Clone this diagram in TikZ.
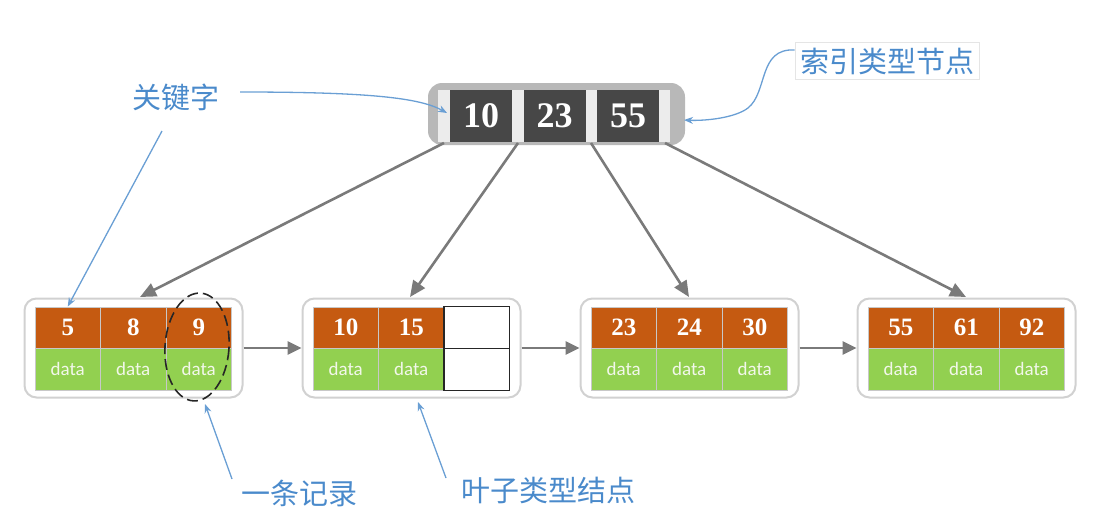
\documentclass[tikz,border=0pt]{standalone}
\usepackage{fontspec}
\setmainfont{Liberation Serif}
\newfontfamily\cjk{Noto Sans CJK SC}
\newfontfamily\carl{Carlito}
\usetikzlibrary{arrows.meta,calc}
\definecolor{orangeC}{HTML}{C55A11}
\definecolor{greenC}{HTML}{92D050}
\definecolor{darkC}{HTML}{474747}
\definecolor{frameC}{HTML}{B8B8B8}
\definecolor{stripC}{HTML}{ECECEC}
\definecolor{arrowC}{HTML}{7A7A7A}
\definecolor{blueT}{HTML}{4A8ACB}
\definecolor{blueL}{HTML}{6A9FD4}
\definecolor{cellL}{HTML}{C8C8C8}
\definecolor{dataT}{HTML}{F2F7EA}
\newcommand\leafnode[5]{%
  \node[leafbox] (#1) at (#2+98.5,348) {};
  \node[keycell] (#1k1) at (#2+32.75,327.5) {#3};
  \node[keycell] (#1k2) at (#2+98.25,327.5) {#4};
  \node[keycell] (#1k3) at (#2+163.75,327.5) {#5};
  \node[datacell] (#1d1) at (#2+32.75,369) {data};
  \node[datacell] (#1d2) at (#2+98.25,369) {data};
  \node[datacell] (#1d3) at (#2+163.75,369) {data};
}
\begin{document}
\begin{tikzpicture}[x=1pt,y=-1pt,
  leafbox/.style={draw=black!18, line width=2pt, rounded corners=12pt, fill=white, minimum width=218pt, minimum height=99pt, inner sep=0pt},
  keycell/.style={fill=orangeC, draw=cellL, line width=0.8pt, minimum width=65.5pt, minimum height=41pt, inner sep=0pt, text=white, font=\fontsize{25}{25}\selectfont\bfseries},
  datacell/.style={fill=greenC, draw=cellL, line width=0.8pt, minimum width=65.5pt, minimum height=42pt, inner sep=0pt, text=dataT, font=\carl\fontsize{19}{19}\selectfont},
  emptycell/.style={fill=white, draw=black!85, line width=1.8pt, minimum width=65.5pt, inner sep=0pt},
  rootcell/.style={fill=darkC, minimum width=62pt, minimum height=52pt, inner sep=0pt, text=white, font=\fontsize{36}{36}\selectfont\bfseries},
  treearrow/.style={draw=arrowC, line width=2.6pt, -{Triangle[length=16pt,width=14pt]}},
  linkarrow/.style={draw=arrowC, line width=2.6pt, -{Triangle[length=14pt,width=13pt]}},
  notearrow/.style={draw=blueL, line width=1.3pt, -{Stealth[length=9pt,width=7pt]}},
  notetext/.style={text=blueT, font=\cjk\fontsize{29}{29}\selectfont, inner sep=2pt}
]
\useasboundingbox (0,0) rectangle (1104,530);
% root
\node[fill=frameC, rounded corners=14pt, minimum width=257pt, minimum height=62pt, inner sep=0pt] (root) at (556.5,114) {};
\node[fill=stripC, minimum width=232pt, minimum height=52pt, inner sep=0pt] (rootin) at (554,116) {};
\node[rootcell] (rc1) at (481,116) {10};
\node[rootcell] (rc2) at (554.5,116) {23};
\node[rootcell] (rc3) at (628,116) {55};
\coordinate (p1) at (444,143);
\coordinate (p2) at (518,143);
\coordinate (p3) at (591,143);
\coordinate (p4) at (665,143);
% leaves
\leafnode{l1}{35}{5}{8}{9}
\node[leafbox] (l2) at (411.5,348) {};
\node[keycell] (l2k1) at (345.75,327.5) {10};
\node[keycell] (l2k2) at (411.25,327.5) {15};
\node[datacell] (l2d1) at (345.75,369) {data};
\node[datacell] (l2d2) at (411.25,369) {data};
\node[emptycell, minimum height=42pt] (l2k3) at (476.75,327.5) {};
\node[emptycell, minimum height=42pt] (l2d3) at (476.75,369.5) {};
\leafnode{l3}{591}{23}{24}{30}
\leafnode{l4}{868}{55}{61}{92}
\coordinate (t1) at (140,297);
\coordinate (t2) at (410,297);
\coordinate (t3) at (689,297);
\coordinate (t4) at (966,297);
\draw[treearrow] (p1) -- (t1);
\draw[treearrow] (p2) -- (t2);
\draw[treearrow] (p3) -- (t3);
\draw[treearrow] (p4) -- (t4);
\draw[linkarrow] (l1.east) -- (l2.west);
\draw[linkarrow] (l2.east) -- (l3.west);
\draw[linkarrow] (l3.east) -- (l4.west);
% record ellipse
\draw[black!85, line width=1.6pt, dash pattern=on 11pt off 5pt, rotate around={-4:(197,347)}] (197,347) ellipse [x radius=32, y radius=54];
\coordinate (ell) at (205,404);
% notes
\node[notetext] (kw) at (176,97) {关键字};
\coordinate (kwa) at (240,92);
\coordinate (kwb) at (162,131);
\draw[notearrow] (kwa) .. controls (370,92) and (420,98) .. (447,113);
\draw[notearrow] (kwb) -- (l1k1.north);
\node[notetext, draw=black!10, line width=0.8pt, fill=white, inner sep=5pt] (idx) at (887,61) {索引类型节点};
\draw[notearrow] (idx.west |- 0,50) .. controls (758,48) and (768,92) .. (748,108) .. controls (735,118) and (705,121) .. (684,120);
\node[notetext] (rec) at (299,493) {一条记录};
\coordinate (reca) at (232,479);
\draw[notearrow] (reca) -- (ell);
\node[notetext] (leaf) at (548,490) {叶子类型结点};
\coordinate (leafa) at (446,478);
\coordinate (leafb) at (418,402);
\draw[notearrow] (leafa) -- (leafb);
\end{tikzpicture}
\end{document}
